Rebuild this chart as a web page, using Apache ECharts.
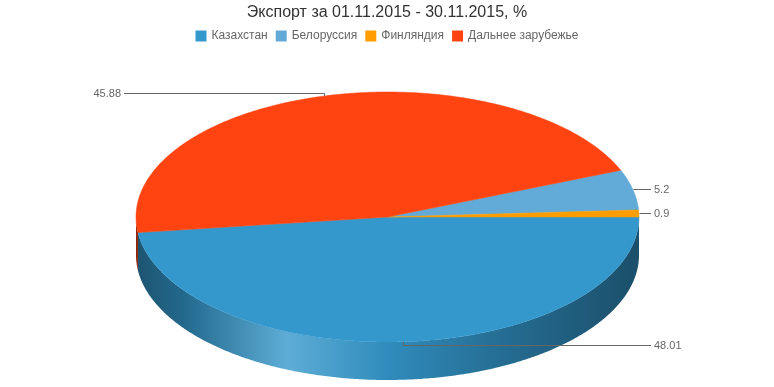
<!DOCTYPE html>
<html><head><meta charset="utf-8">
<script src="https://cdn.jsdelivr.net/npm/echarts@6/dist/echarts.min.js"></script>
<style>html,body{margin:0;padding:0;background:#fff}#c{width:774px;height:387px}</style>
</head><body><div id="c"></div>
<script>
const titleText = 'Экспорт за 01.11.2015 - 30.11.2015, %';
const categories = ['Казахстан', 'Белоруссия', 'Финляндия', 'Дальнее зарубежье'];
const values = [48.01, 5.2, 0.9, 45.88];
const colors = ['#3498cc', '#62abd9', '#ff9c00', '#ff4411'];
// order of slices going clockwise from 3 o'clock
const pieOrder = [0, 3, 1, 2];

// pie geometry (layout)
const G = { cx: 387.5, cy: 217, rx: 251.5, ry: 125, depth: 38 };

function shade(hex, f) {
  const n = parseInt(hex.slice(1), 16);
  let r = (n >> 16) & 255, g = (n >> 8) & 255, b = n & 255;
  if (f <= 1) { r *= f; g *= f; b *= f; }
  else { const t = f - 1; r += (255 - r) * t; g += (255 - g) * t; b += (255 - b) * t; }
  return 'rgb(' + Math.round(r) + ',' + Math.round(g) + ',' + Math.round(b) + ')';
}

const total = values.reduce((a, b) => a + b, 0);
const angles = [];
let acc = 0;
pieOrder.forEach(i => {
  const a0 = acc / total * 2 * Math.PI;
  acc += values[i];
  const a1 = acc / total * 2 * Math.PI;
  angles[i] = [a0, a1];
});

function pt(a, dy) { return [G.cx + G.rx * Math.cos(a), G.cy + G.ry * Math.sin(a) + (dy || 0)]; }
function arc(a0, a1, dy) {
  const n = Math.max(2, Math.ceil(Math.abs(a1 - a0) / (Math.PI / 360)));
  const out = [];
  for (let k = 0; k <= n; k++) out.push(pt(a0 + (a1 - a0) * k / n, dy));
  return out;
}

function renderSlice(params, api) {
  const i = params.seriesIndex;
  const [a0, a1] = angles[i];
  const col = colors[i];
  const children = [];
  // outer wall (front half only)
  const w0 = Math.max(a0, 0), w1 = Math.min(a1, Math.PI);
  if (w1 > w0) {
    const pts = arc(w0, w1, 0).concat(arc(w1, w0, G.depth));
    children.push({
      type: 'polygon', shape: { points: pts },
      style: {
        fill: {
          type: 'linear', x: G.cx - G.rx, y: 0, x2: G.cx + G.rx, y2: 0, global: true,
          colorStops: [
            { offset: 0, color: shade(col, 0.55) },
            { offset: 0.1, color: shade(col, 0.7) },
            { offset: 0.3, color: shade(col, 1.2) },
            { offset: 0.5, color: shade(col, 0.92) },
            { offset: 0.75, color: shade(col, 0.7) },
            { offset: 1, color: shade(col, 0.52) }
          ]
        }
      }
    });
  }
  // top face
  const top = [[G.cx, G.cy]].concat(arc(a0, a1, 0));
  children.push({ type: 'polygon', shape: { points: top }, style: { fill: col, stroke: col, lineWidth: 0.5 } });
  // label with connector
  const m = (a0 + a1) / 2;
  const [ax, ay] = pt(m, 0);
  const right = Math.cos(m) >= 0;
  const ly = Math.round(ay + Math.sin(m) * 3) + 0.5;
  const lx = right ? G.cx + G.rx + 15 : G.cx - G.rx - 15;
  children.push({
    type: 'polyline',
    shape: { points: [[Math.round(ax) + 0.5, ay], [Math.round(ax) + 0.5, ly], [right ? lx - 3 : lx + 3, ly]] },
    style: { stroke: '#666', lineWidth: 1, fill: null }
  });
  children.push({
    type: 'text', x: lx, y: ly,
    style: {
      text: String(values[i]), fill: '#666', font: '11px "Liberation Sans", Arial, sans-serif',
      align: right ? 'left' : 'right', verticalAlign: 'middle'
    }
  });
  return { type: 'group', children: children };
}

const chart = echarts.init(document.getElementById('c'), null, { renderer: 'canvas' });
chart.setOption({
  animation: false,
  title: {
    text: titleText, left: 'center', top: 0,
    textStyle: { color: '#333', fontSize: 16, fontWeight: 'normal', fontFamily: '"Liberation Sans", Arial, sans-serif' }
  },
  legend: {
    top: 25, left: 'center', icon: 'rect', itemWidth: 11, itemHeight: 11, itemGap: 8,
    data: categories,
    textStyle: { color: '#666', fontSize: 12, fontFamily: '"Liberation Sans", Arial, sans-serif' }
  },
  series: categories.map((name, i) => ({
    type: 'custom', name: name, coordinateSystem: 'none',
    itemStyle: { color: colors[i] },
    data: [[values[i]]],
    renderItem: renderSlice
  }))
});
</script></body></html>
